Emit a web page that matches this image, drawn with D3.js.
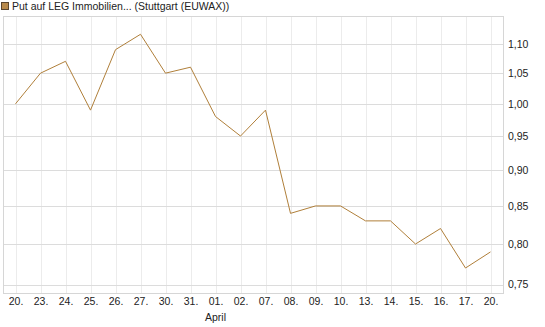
<!DOCTYPE html>
<html>
<head>
<meta charset="utf-8">
<script src="https://cdn.jsdelivr.net/npm/d3@7/dist/d3.min.js"></script>
<style>
  body { margin: 0; background: #fff; }
  svg { display: block; font-family: "Liberation Sans", Arial, sans-serif; }
</style>
</head>
<body>
<div id="chart"></div>
<script>
const title = 'Put auf LEG Immobilien... (Stuttgart (EUWAX))';
const days = ['20.', '23.', '24.', '25.', '26.', '27.', '30.', '31.', '01.', '02.', '07.', '08.', '09.', '10.', '13.', '14.', '15.', '16.', '17.', '20.'];
const prices = [1.00, 1.05, 1.07, 0.99, 1.09, 1.117, 1.05, 1.06, 0.98, 0.95, 0.99, 0.84, 0.85, 0.85, 0.83, 0.83, 0.80, 0.82, 0.77, 0.79];
const yTicks = [0.75, 0.80, 0.85, 0.90, 0.95, 1.00, 1.05, 1.10];
const monthLabel = { index: 8, text: 'April' };

const w = 545, h = 327;
const m = { t: 16, r: 42, b: 34, l: 3 };
const innerW = w - m.l - m.r;
const innerH = h - m.t - m.b;
const lineColor = '#b07f3a';

const svg = d3.select('#chart').append('svg').attr('width', w).attr('height', h);

// legend
svg.append('rect').attr('x', 1.5).attr('y', 2.5).attr('width', 7).attr('height', 7)
  .attr('fill', '#b88a4c').attr('stroke', '#5a4630').attr('stroke-width', 1);
svg.append('text').attr('x', 12).attr('y', 10).attr('font-size', 10.5).attr('fill', '#222').text(title);

const g = svg.append('g').attr('transform', `translate(${m.l},${m.t})`);

const x = d3.scalePoint().domain(d3.range(days.length)).range([0, innerW]).padding(0.5);
const y = d3.scaleLog().domain([0.74, 1.15]).range([innerH, 0]);

// grid
g.selectAll('.vg').data(d3.range(days.length)).enter().append('line')
  .attr('x1', i => Math.round(x(i)) + 0.5).attr('x2', i => Math.round(x(i)) + 0.5)
  .attr('y1', 0).attr('y2', innerH)
  .attr('stroke', '#ececec');
g.selectAll('.hg').data(yTicks).enter().append('line')
  .attr('x1', 0).attr('x2', innerW)
  .attr('y1', d => Math.round(y(d)) + 0.5).attr('y2', d => Math.round(y(d)) + 0.5)
  .attr('stroke', '#dcdcdc');

// frame
g.append('rect').attr('x', 0.5).attr('y', 0.5).attr('width', innerW).attr('height', innerH)
  .attr('fill', 'none').attr('stroke', '#d6d6d6');

// y axis on the right
const yAxis = g.append('g').attr('transform', `translate(${innerW},0)`)
  .call(d3.axisRight(y).tickValues(yTicks).tickSize(0).tickPadding(5)
    .tickFormat(d => d3.format('.2f')(d).replace('.', ',')));
yAxis.select('.domain').remove();
yAxis.selectAll('text').attr('font-size', 10.5).attr('fill', '#222').attr('font-family', null);

// x axis
const xAxis = g.append('g').attr('transform', `translate(0,${innerH})`)
  .call(d3.axisBottom(x).tickSize(0).tickPadding(5).tickFormat(i => days[i]));
xAxis.select('.domain').remove();
xAxis.selectAll('text').attr('font-size', 10.5).attr('fill', '#222').attr('font-family', null);

g.append('text').attr('x', x(monthLabel.index)).attr('y', innerH + 28)
  .attr('text-anchor', 'middle').attr('font-size', 10.5).attr('fill', '#222').text(monthLabel.text);

// price line
const line = d3.line().x((d, i) => x(i)).y(d => y(d));
g.append('path').datum(prices).attr('d', line)
  .attr('fill', 'none').attr('stroke', lineColor).attr('stroke-width', 1);
</script>
</body>
</html>
